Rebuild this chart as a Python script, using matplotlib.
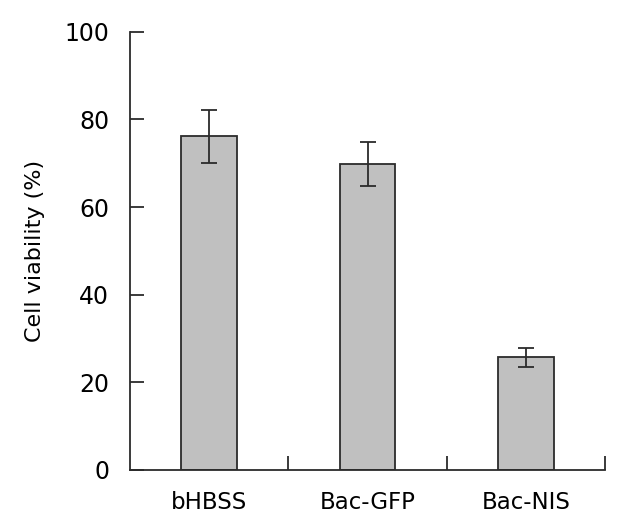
import matplotlib.pyplot as plt

# Cell viability per treatment (mean and error)
groups = ["bHBSS", "Bac-GFP", "Bac-NIS"]
viability = [76.1, 69.9, 25.7]
errors = [6.1, 5.0, 2.1]
y_ticks = [0, 20, 40, 60, 80, 100]

plt.rcParams['font.family'] = ['DejaVu Sans']

fig = plt.figure(figsize=(6.29, 5.31), dpi=100)
ax = fig.add_axes([0.2067, 0.1149, 0.7552, 0.8254])

x = list(range(len(groups)))
ax.bar(x, viability, width=0.35, color='#c0c0c0', edgecolor='#2b2b2b', linewidth=1.3,
       yerr=errors, capsize=5.8, error_kw=dict(ecolor='#2b2b2b', elinewidth=1.3, capthick=1.3))

ax.set_xlim(-0.5, len(groups) - 0.5)
ax.set_ylim(0, 100)
ax.set_yticks(y_ticks)

# category labels at bar centres, tick marks at the category borders
ax.set_xticks(x)
ax.set_xticklabels(groups, fontsize=16.5)
ax.tick_params(axis='x', which='major', length=0, pad=15)
ax.set_xticks([i + 0.5 for i in x], minor=True)
ax.tick_params(axis='x', which='minor', direction='in', length=10, width=1.3, color='#2b2b2b')
ax.tick_params(axis='y', direction='in', length=10, width=1.3, color='#2b2b2b',
               labelsize=17, pad=15)

for side in ['top', 'right']:
    ax.spines[side].set_visible(False)
for side in ['left', 'bottom']:
    ax.spines[side].set_linewidth(1.3)
    ax.spines[side].set_color('#2b2b2b')

ax.set_ylabel("Cell viability (%)", fontsize=16, labelpad=14)

fig.savefig("out.png", dpi=100)
